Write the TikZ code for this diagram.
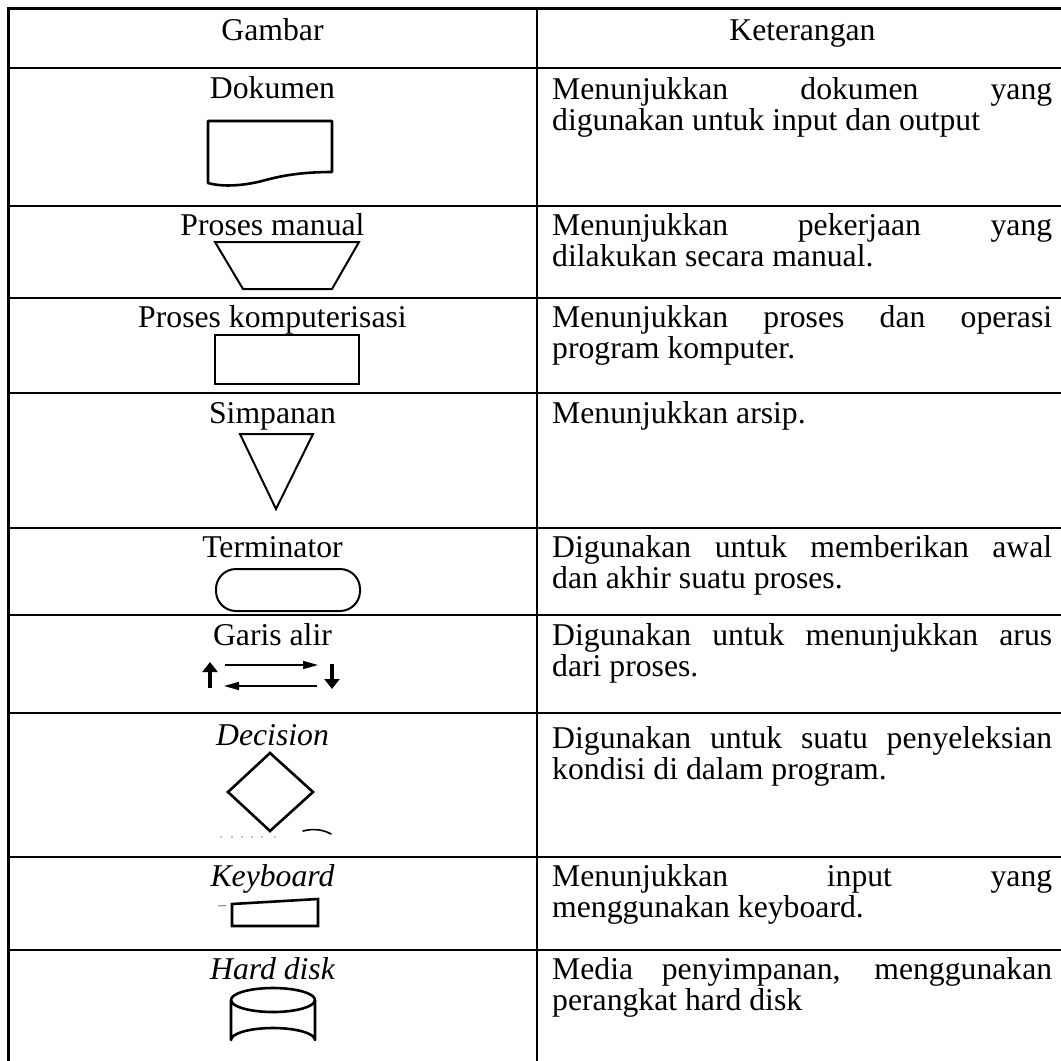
\documentclass[tikz,border=0pt]{standalone}
\usepackage{fontspec}
\setmainfont{Liberation Serif}
\usetikzlibrary{arrows.meta}
\begin{document}
\begin{tikzpicture}[x=1pt,y=-1pt,
  gridline/.style={line width=2.8pt,black,line cap=rect},
  cleanshape/.style={line width=2pt,line join=miter},
  scanshape/.style={line width=2.6pt,line join=round},
  lbl/.style={anchor=base,inner sep=0pt,font=\fontsize{31.7}{31}\selectfont},
  ilbl/.style={anchor=base,inner sep=0pt,font=\fontsize{31.7}{31}\selectfont\itshape},
  desc/.style={anchor=base west,inner sep=0pt,font=\fontsize{31.7}{31}\selectfont},
  bigarrow/.style={line width=3.6pt,-{Triangle[length=10pt,width=15pt]}},
  thinarrow/.style={line width=1.6pt,-{Triangle[length=15pt,width=8pt]}},
]
\clip (0,0) rectangle (1061,1061);
\fill[white] (0,0) rectangle (1061,1061);

% table grid
\foreach \yy in {8.5,68,206,298,393,528,615,713,857,950}
  \draw[gridline] (8.5,\yy) -- (1075,\yy);
\draw[gridline] (8.5,8.5) -- (8.5,1075);
\draw[gridline] (537,8.5) -- (537,1075);
\draw[gridline] (1068,8.5) -- (1068,1075);

% header
\node[lbl] (hG) at (272.5,40) {Gambar};
\node[lbl] (hK) at (802.5,40) {Keterangan};

% left labels
\node[lbl] (l1) at (272.5,98) {Dokumen};
\node[lbl] (l2) at (272.5,235) {Proses manual};
\node[lbl] (l3) at (272.5,327) {Proses komputerisasi};
\node[lbl] (l4) at (272.5,423) {Simpanan};
\node[lbl] (l5) at (272.5,557) {Terminator};
\node[lbl] (l6) at (272.5,645) {Garis alir};
\node[ilbl] (l7) at (272.5,745) {Decision};
\node[ilbl] (l8) at (272.5,886) {Keyboard};
\node[ilbl] (l9) at (272.5,979) {Hard disk};

% right descriptions
\node[desc] (d1a) at (552,99) {\makebox[500pt][s]{Menunjukkan dokumen yang}};
\node[desc] (d1b) at (552,130) {digunakan untuk input dan output};
\node[desc] (d2a) at (552,235) {\makebox[500pt][s]{Menunjukkan pekerjaan yang}};
\node[desc] (d2b) at (552,266) {dilakukan secara manual.};
\node[desc] (d3a) at (552,327) {\makebox[500pt][s]{Menunjukkan proses dan operasi}};
\node[desc] (d3b) at (552,358) {program komputer.};
\node[desc] (d4a) at (552,423) {Menunjukkan arsip.};
\node[desc] (d5a) at (552,557) {\makebox[500pt][s]{Digunakan untuk memberikan awal}};
\node[desc] (d5b) at (552,588) {dan akhir suatu proses.};
\node[desc] (d6a) at (552,645) {\makebox[500pt][s]{Digunakan untuk menunjukkan arus}};
\node[desc] (d6b) at (552,676) {dari proses.};
\node[desc] (d7a) at (552,748) {\makebox[500pt][s]{Digunakan untuk suatu penyeleksian}};
\node[desc] (d7b) at (552,779) {kondisi di dalam program.};
\node[desc] (d8a) at (552,886) {\makebox[500pt][s]{Menunjukkan input yang}};
\node[desc] (d8b) at (552,917) {menggunakan keyboard.};
\node[desc] (d9a) at (552,979) {\makebox[500pt][s]{Media penyimpanan, menggunakan}};
\node[desc] (d9b) at (552,1010) {perangkat hard disk};

% Dokumen shape
\draw[scanshape] (208,121) -- (332,121) -- (332,172)
  .. controls (300,172) and (280,176) .. (262,181)
  .. controls (242,186) and (222,187) .. (208,183) -- cycle;

% Proses manual trapezoid
\draw[cleanshape] (215,242) -- (359,242) -- (332,289) -- (243,289) -- cycle;

% Proses komputerisasi rectangle
\draw[cleanshape] (215,335) rectangle (359,384);

% Simpanan triangle
\draw[cleanshape] (240,434) -- (313,434) -- (276,509) -- cycle;

% Terminator
\draw[cleanshape,rounded corners=20pt] (216,569) rectangle (360,611);

% Garis alir
\coordinate (ua) at (210,688);
\coordinate (ub) at (210,662);
\coordinate (ra) at (225,665);
\coordinate (rb) at (318,665);
\coordinate (la) at (317,686);
\coordinate (lb) at (224,686);
\coordinate (da) at (332,664);
\coordinate (db) at (332,689);
\draw[bigarrow] (ua) -- (ub);
\draw[thinarrow] (ra) -- (rb);
\draw[thinarrow] (la) -- (lb);
\draw[bigarrow] (da) -- (db);

% Decision diamond
\draw[scanshape,line join=miter] (270,753) -- (313,792) -- (270,831) -- (228,792) -- cycle;
\draw[line width=1.6pt,line cap=round] (303,831) .. controls (314,828) and (324,830) .. (331,834);
\foreach \xx in {221,232,242,252,262,275}
  \fill[black!45] (\xx,837) circle (0.9);

% Keyboard
\draw[scanshape,line join=miter] (232,904) -- (318,899) -- (318,926) -- (232,926) -- cycle;
\draw[black!50,line width=1pt] (218,906) -- (226,905.5);

% Hard disk
\draw[scanshape] (231,1000) -- (231,1040) arc[start angle=180,end angle=360,x radius=42,y radius=12] -- (315,1000);
\draw[scanshape] (273,1000) ellipse[x radius=42,y radius=12];
\end{tikzpicture}
\end{document}
